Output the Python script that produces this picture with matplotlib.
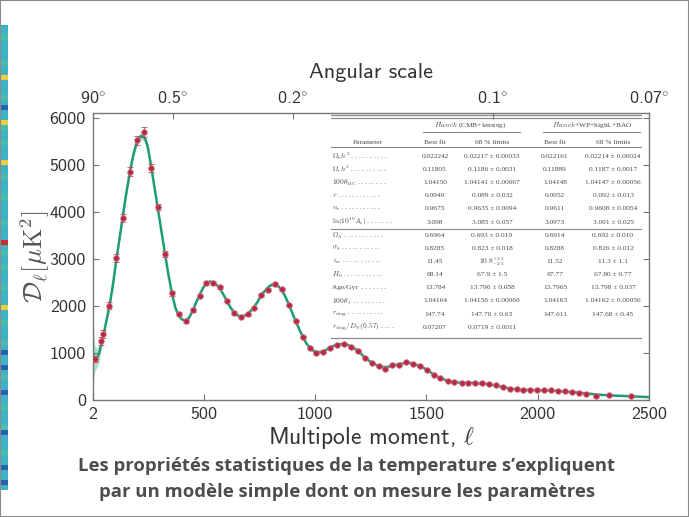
import matplotlib
matplotlib.use('Agg')
import matplotlib.pyplot as plt
import numpy as np
from matplotlib.patches import Rectangle
from matplotlib.lines import Line2D
from matplotlib.colors import ListedColormap

plt.rcParams['mathtext.fontset'] = 'cm'
plt.rcParams['font.family'] = ['cmss10', 'DejaVu Sans']
plt.rcParams['axes.formatter.use_mathtext'] = False

# ---------------- data ----------------
x_ticks = [2, 500, 1000, 1500, 2000, 2500]
x_ticklabels = ['2', '500', '1000', '1500', '2000', '2500']
y_ticks = [0, 1000, 2000, 3000, 4000, 5000, 6000]
top_ticks = [2, 360, 900, 1800, 2500]
top_ticklabels = [r'90$^{\circ}$', r'0.5$^{\circ}$', r'0.2$^{\circ}$', r'0.1$^{\circ}$',
                  r'0.07$^{\circ}$']

l_pts = [13, 40, 46, 76, 106, 136, 169, 201, 231, 262, 294, 325, 357, 387, 418, 450,
         481, 511, 542, 572, 603, 634, 665, 697, 727, 758, 790, 821, 851, 883, 913,
         944, 976, 1006, 1037, 1068, 1100, 1130, 1162, 1193, 1223, 1254, 1285, 1316,
         1347, 1379, 1410, 1440, 1472, 1503, 1533, 1563, 1595, 1626, 1658, 1688, 1719,
         1749, 1781, 1811, 1842, 1874, 1905, 1935, 1966, 1998, 2028, 2059, 2089, 2121,
         2152, 2184, 2217, 2262, 2320, 2418]
d_pts = [870, 1255, 1404, 2007, 3021, 3865, 4851, 5518, 5695, 4929, 4100, 3106, 2270,
         1830, 1681, 1915, 2220, 2489, 2482, 2397, 2113, 1858, 1773, 1823, 1957, 2227,
         2340, 2461, 2355, 2021, 1674, 1340, 1099, 1007, 1028, 1106, 1163, 1199, 1135,
         1036, 901, 794, 720, 667, 738, 745, 801, 766, 716, 645, 539, 468, 411, 376,
         369, 369, 362, 355, 340, 312, 270, 241, 227, 213, 220, 220, 206, 206, 199,
         184, 170, 156, 121, 92, 106, 85]
err_pts = [70, 80, 80, 80, 80, 90, 100, 100, 100, 90, 70, 60, 50, 45, 40, 40, 40, 40,
           40, 35, 35, 30, 30, 30, 30, 30, 30, 30, 30, 28, 26, 24, 22, 20, 20, 20, 20,
           20, 20, 18, 18, 16, 16, 16, 16, 16, 16, 16, 15, 15, 15, 14, 14, 14, 14, 14,
           14, 14, 14, 14, 14, 14, 14, 14, 14, 14, 14, 14, 15, 15, 15, 16, 16, 18, 20, 22]

model_curve = [
    (2, 1000), (10, 880), (20, 900), (30, 1000), (40, 1180), (50, 1400), (60, 1630),
    (76, 2000), (90, 2400), (106, 2950), (120, 3400), (136, 3900), (150, 4350),
    (169, 4880), (185, 5250), (200, 5500), (215, 5600), (225, 5610), (235, 5570),
    (248, 5380), (262, 5000), (278, 4530), (294, 4050), (310, 3570), (325, 3120),
    (340, 2690), (357, 2260), (372, 1960), (387, 1790), (402, 1710), (418, 1690),
    (434, 1750), (450, 1900), (465, 2070), (481, 2235), (496, 2380), (511, 2480),
    (527, 2520), (542, 2500), (557, 2450), (572, 2370), (587, 2250), (603, 2110),
    (618, 1980), (634, 1870), (650, 1800), (665, 1780), (681, 1790), (697, 1830),
    (712, 1900), (727, 1985), (743, 2100), (758, 2225), (774, 2320), (790, 2400),
    (805, 2450), (821, 2455), (836, 2410), (851, 2330), (867, 2190), (883, 2020),
    (898, 1840), (913, 1670), (929, 1500), (944, 1350), (960, 1210), (976, 1110),
    (991, 1050), (1006, 1020), (1022, 1020), (1037, 1040), (1053, 1075), (1068, 1115),
    (1084, 1150), (1100, 1175), (1115, 1190), (1130, 1190), (1146, 1170), (1162, 1140),
    (1177, 1095), (1193, 1040), (1208, 975), (1223, 905), (1239, 845), (1254, 795),
    (1270, 755), (1285, 720), (1300, 705), (1316, 700), (1332, 710), (1347, 730),
    (1363, 750), (1379, 765), (1395, 780), (1410, 790), (1425, 790), (1440, 770),
    (1456, 745), (1472, 715), (1488, 680), (1503, 640), (1518, 590), (1533, 540),
    (1548, 500), (1563, 465), (1580, 435), (1595, 410), (1610, 393), (1626, 380),
    (1642, 372), (1658, 368), (1673, 367), (1688, 366), (1704, 363), (1719, 360),
    (1734, 355), (1749, 350), (1765, 343), (1781, 335), (1796, 323), (1811, 310),
    (1827, 293), (1842, 275), (1858, 258), (1874, 245), (1890, 235), (1905, 228),
    (1920, 222), (1935, 218), (1950, 215), (1966, 213), (1982, 211), (1998, 210),
    (2028, 205), (2059, 200), (2089, 192), (2121, 182), (2152, 170), (2184, 157),
    (2217, 140), (2240, 128), (2262, 118), (2290, 108), (2320, 100), (2360, 90),
    (2418, 80), (2460, 70), (2500, 60)]

table_params = [r'$\Omega_{\rm b}h^2$ . . . . . . . . . .',
                r'$\Omega_{\rm c}h^2$ . . . . . . . . . .',
                r'$100\theta_{\rm MC}$ . . . . . . . .',
                r'$\tau$ . . . . . . . . . . . .',
                r'$n_{\rm s}$ . . . . . . . . . . .',
                r'$\ln(10^{10}A_{\rm s})$ . . . . . . .',
                r'$\Omega_\Lambda$ . . . . . . . . . . .',
                r'$\sigma_8$ . . . . . . . . . . .',
                r'$z_{\rm re}$ . . . . . . . . . . .',
                r'$H_0$ . . . . . . . . . . .',
                'Age/Gyr  . . . . . . .',
                r'$100\theta_*$ . . . . . . . . .',
                r'$r_{\rm drag}$ . . . . . . . . . .',
                r'$r_{\rm drag}/D_{\rm V}(0.57)$ . . . .']
best1 = ['0.022242', '0.11805', '1.04150', '0.0949', '0.9675', '3.098', '0.6964',
         '0.8285', '11.45', '68.14', '13.784', '1.04164', '147.74', '0.07207']
lim1 = ['0.02217 ± 0.00033', '0.1186 ± 0.0031', '1.04141 ± 0.00067', '0.089 ± 0.032',
        '0.9635 ± 0.0094', '3.085 ± 0.057', '0.693 ± 0.019', '0.823 ± 0.018',
        r'$10.8^{+3.1}_{-2.5}$', '67.9 ± 1.5', '13.796 ± 0.058', '1.04156 ± 0.00066',
        '147.70 ± 0.63', '0.0719 ± 0.0011']
best2 = ['0.022161', '0.11889', '1.04148', '0.0952', '0.9611', '3.0973', '0.6914',
         '0.8288', '11.52', '67.77', '13.7965', '1.04163', '147.611', '']
lim2 = ['0.02214 ± 0.00024', '0.1187 ± 0.0017', '1.04147 ± 0.00056', '0.092 ± 0.013',
        '0.9608 ± 0.0054', '3.091 ± 0.025', '0.692 ± 0.010', '0.826 ± 0.012',
        '11.3 ± 1.1', '67.80 ± 0.77', '13.798 ± 0.037', '1.04162 ± 0.00056',
        '147.68 ± 0.45', '']

strip_vals = [1, 1, 2, 1, 1, 1, 1, 2, 1, 1, 4, 1, 1, 1, 2, 1, 0, 1, 1, 4, 2, 1, 1, 2,
              1, 1, 1, 4, 1, 1, 2, 1, 1, 1, 2, 1, 1, 1, 1, 2, 1, 1, 1, 6, 1, 2, 1, 1,
              2, 1, 1, 1, 2, 1, 1, 1, 4, 1, 1, 2, 1, 1, 1, 2, 1, 0, 1, 1, 0, 1, 2, 1,
              1, 0, 1, 1, 2, 1, 1, 1, 2, 0, 1, 1, 1, 2, 1, 1, 0, 1, 1, 0, 1]

bottom_lines = ['Les propriétés statistiques de la temperature s’expliquent',
                'par un modèle simple dont on mesure les paramètres']

# ---------------- figure ----------------
W, H = 689, 517
fig = plt.figure(figsize=(W / 100, H / 100), dpi=100)
fig.patch.set_facecolor('white')

def fx(x):
    return (x - 93) / 556

def fy(y):
    return (400 - y) / 287

ax = fig.add_axes([93 / W, 1 - 400 / H, 556 / W, 287 / H])

lm = np.array([p[0] for p in model_curve], dtype=float)
dm = np.array([p[1] for p in model_curve], dtype=float)
band = dm * np.sqrt(2.0 / (2 * lm + 1)) * np.where(lm < 40, 1.0, 0.22)
ax.fill_between(lm, dm - band, dm + band, color='#a8e0c8', lw=0, zorder=1)
ax.plot(lm, dm, color='#1f9c76', lw=1.8, zorder=2)
ax.errorbar(l_pts, d_pts, yerr=err_pts, fmt='o', ms=4.0, mfc='#b32a44', mec='#d46a7c',
            mew=0.6, ecolor='#c24a5e', elinewidth=0.8, capsize=2.3, capthick=0.8,
            zorder=3)

ax.set_xlim(2, 2500)
ax.set_ylim(0, 6100)
ax.set_xticks(x_ticks)
ax.set_xticklabels(x_ticklabels)
ax.set_yticks(y_ticks)
ax.tick_params(axis='both', direction='in', length=4, width=0.8, color='#777',
               labelsize=13, labelcolor='#333', top=False, right=True, pad=5)
for s in ax.spines.values():
    s.set_color('#777')
    s.set_linewidth(1.0)
ax.set_xlabel(r'Multipole moment, $\ell$', fontsize=17, color='#333', labelpad=2)
ax.set_ylabel(r'$\mathcal{D}_\ell[\mu\mathrm{K}^2]$', fontsize=19, color='#555',
              labelpad=-2)

axt = ax.twiny()
axt.set_xlim(ax.get_xlim())
axt.set_xticks(top_ticks)
axt.set_xticklabels(top_ticklabels)
axt.tick_params(axis='x', direction='in', length=4, width=0.8, color='#777',
                labelsize=13, labelcolor='#333', pad=4)
for s in axt.spines.values():
    s.set_visible(False)
axt.set_xlabel('Angular scale', fontsize=16, color='#333', labelpad=9)

# ---------------- table ----------------
tcol = '#4a4a4a'
lcol = '#8a8a8a'
tfont = dict(family=['Liberation Serif', 'DejaVu Serif'], fontsize=5.3, color=tcol,
             transform=ax.transAxes, va='center')

def hline(x0, x1, y, lw=0.8):
    ax.add_line(Line2D([fx(x0), fx(x1)], [fy(y), fy(y)], transform=ax.transAxes,
                       color=lcol, lw=lw, zorder=4))

hline(331, 641, 114.5, 0.9)
hline(331, 641, 117.5, 0.9)
hline(423, 520, 132, 0.8)
hline(543, 640, 132, 0.8)
hline(331, 641, 147, 0.8)
hline(331, 641, 229, 0.8)
hline(331, 641, 338, 0.9)

ax.text(fx(470), fy(125), r'$\mathit{Planck}$ (CMB+lensing)', ha='center', **tfont)
ax.text(fx(592), fy(125), r'$\mathit{Planck}$+WP+highL+BAO', ha='center', **tfont)
ax.text(fx(368), fy(142), 'Parameter', ha='center', **tfont)
ax.text(fx(435), fy(142), 'Best fit', ha='center', **tfont)
ax.text(fx(492), fy(142), '68 % limits', ha='center', **tfont)
ax.text(fx(555), fy(142), 'Best fit', ha='center', **tfont)
ax.text(fx(613), fy(142), '68 % limits', ha='center', **tfont)

for i in range(len(table_params)):
    if i < 6:
        yy = 156 + 13.2 * i
    else:
        yy = 235.5 + 13.1 * (i - 6)
    ax.text(fx(332), fy(yy), table_params[i], ha='left', **tfont)
    ax.text(fx(435), fy(yy), best1[i], ha='center', **tfont)
    ax.text(fx(492), fy(yy), lim1[i], ha='center', **tfont)
    ax.text(fx(555), fy(yy), best2[i], ha='center', **tfont)
    ax.text(fx(613), fy(yy), lim2[i], ha='center', **tfont)

# ---------------- decorations ----------------
sax = fig.add_axes([1 / W, 1 - 490 / H, 7 / W, 465 / H])
strip_cmap = ListedColormap(['#2a60b0', '#3fb2c4', '#4cbcae', '#6cc070', '#e8d040',
                             '#e07a30', '#c83030'])
sax.imshow(np.array(strip_vals).reshape(-1, 1), cmap=strip_cmap, vmin=-0.5, vmax=6.5,
           aspect='auto', interpolation='nearest')
sax.axis('off')

fig.patches.append(Rectangle((0, 0), 1, 1, transform=fig.transFigure, fill=False,
                             ec='#8a8a8a', lw=1.5))

for line, yy in zip(bottom_lines, [466, 492]):
    fig.text(347 / W, 1 - yy / H, line, ha='center', va='center',
             family=['Open Sans', 'DejaVu Sans'], fontweight='bold', fontsize=13.3,
             color='#4d4d4d')

fig.savefig('out.png', dpi=100, facecolor='white')
